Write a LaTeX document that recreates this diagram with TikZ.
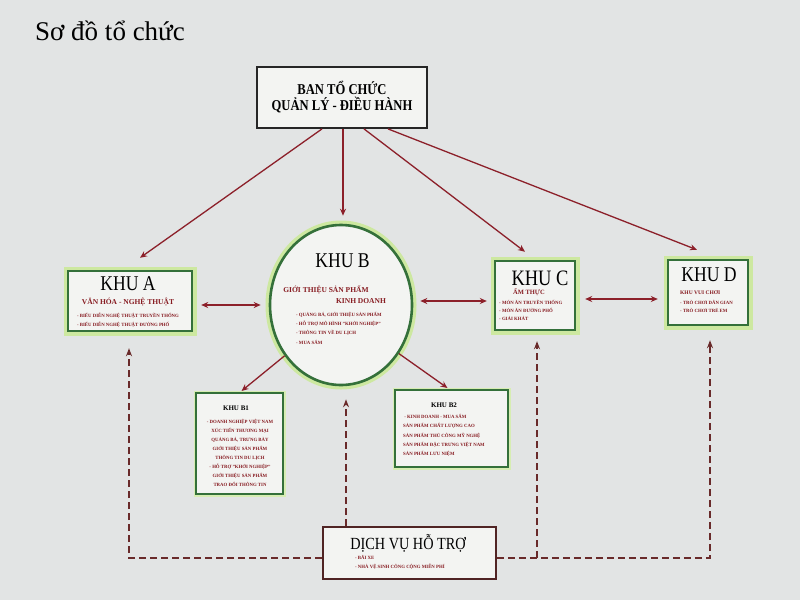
\documentclass[tikz,border=0pt]{standalone}
\usepackage{fontspec}
\setmainfont{Liberation Serif}
\newfontfamily\condserif[FakeStretch=0.84]{Liberation Serif}
\usetikzlibrary{arrows.meta,calc,shapes.geometric}
\definecolor{bg}{RGB}{226,228,228}
\definecolor{boxfill}{RGB}{243,244,242}
\definecolor{dkgreen}{RGB}{52,112,58}
\definecolor{ltgreen}{RGB}{205,232,160}
\definecolor{arrowred}{RGB}{140,32,42}
\definecolor{dashred}{RGB}{105,42,42}
\definecolor{txtred}{RGB}{135,28,34}
\definecolor{dvborder}{RGB}{80,36,36}
\tikzset{
  khubox/.style={rectangle, draw=dkgreen, line width=2.4pt, fill=boxfill,
    preaction={draw=ltgreen, line width=9pt}, inner sep=0pt},
  subbox/.style={rectangle, draw=dkgreen, line width=2pt, fill=boxfill,
    preaction={draw=ltgreen!80, line width=5pt}, inner sep=0pt},
  bigkhu/.style={font=\condserif\fontsize{21}{22}\selectfont, inner sep=0pt, text=black},
  smallkhu/.style={font=\bfseries\fontsize{7}{8}\selectfont, inner sep=0pt, text=black},
  subred/.style={font=\bfseries\fontsize{7.5}{9}\selectfont, text=txtred, inner sep=0pt},
  itemred/.style={font=\bfseries\fontsize{4.8}{9}\selectfont, text=txtred, inner sep=0pt, align=left},
  solidarrow/.style={draw=arrowred, line width=1.3pt, -{Stealth[length=7pt,width=6pt]}},
  duoarrow/.style={draw=arrowred, line width=1.3pt, {Stealth[length=7pt,width=6pt]}-{Stealth[length=7pt,width=6pt]}},
  dasharrow/.style={draw=dashred, line width=1.6pt, dash pattern=on 7pt off 4pt, -{Stealth[length=8pt,width=6pt]}}
}
\begin{document}
\begin{tikzpicture}[x=1pt,y=-1pt]
\fill[bg] (0,0) rectangle (800,600);
\useasboundingbox (0,0) rectangle (800,600);

% title
\node[anchor=base west, inner sep=0pt, font=\fontsize{27}{30}\selectfont] (title) at (35,40) {Sơ đồ tổ chức};

% top box
\node[rectangle, draw=black!85, line width=1.8pt, fill=boxfill, minimum width=170pt, minimum height=61pt,
  align=center, font=\condserif\bfseries\fontsize{15}{16}\selectfont] (top) at (342,97.5) {BAN TỔ CHỨC\\QUẢN LÝ - ĐIỀU HÀNH};

% KHU A
\node[khubox, minimum width=124pt, minimum height=60pt] (khuA) at (130,301) {};
\node[bigkhu] (aT) at (128,284) {KHU A};
\node[subred] (aS) at (128,302) {VĂN HÓA - NGHỆ THUẬT};
\node[itemred] (aI) at (128,320.5) {- BIỂU DIỄN NGHỆ THUẬT TRUYỀN THỐNG\\- BIỂU DIỄN NGHỆ THUẬT ĐƯỜNG PHỐ};

% KHU B
\node[ellipse, draw=dkgreen, line width=2.6pt, fill=boxfill, preaction={draw=ltgreen, line width=9pt},
  minimum width=142pt, minimum height=160pt, inner sep=0pt] (khuB) at (341,305) {};
\node[bigkhu] (bT) at (342.5,261) {KHU B};
\node[subred] (bS1) at (326,290) {GIỚI THIỆU SẢN PHẨM};
\node[subred] (bS2) at (361,301) {KINH DOANH};
\node[itemred, anchor=west, font=\bfseries\fontsize{4.8}{9.3}\selectfont] (bI) at (296,328) {- QUẢNG BÁ, GIỚI THIỆU SẢN PHẨM\\- HỖ TRỢ MÔ HÌNH "KHỞI NGHIỆP"\\- THÔNG TIN VỀ DU LỊCH\\- MUA SẮM};

% KHU C
\node[khubox, minimum width=80pt, minimum height=69pt] (khuC) at (535,295.5) {};
\node[bigkhu, font=\condserif\fontsize{22}{22}\selectfont] (cT) at (540,278) {KHU C};
\node[subred, font=\bfseries\fontsize{6.5}{8}\selectfont] (cS) at (529,292) {ẨM THỰC};
\node[itemred, anchor=west, font=\bfseries\fontsize{4.8}{8}\selectfont] (cI) at (499,310) {- MÓN ĂN TRUYỀN THỐNG\\- MÓN ĂN ĐƯỜNG PHỐ\\- GIẢI KHÁT};

% KHU D
\node[khubox, minimum width=80pt, minimum height=65pt] (khuD) at (708,292.5) {};
\node[bigkhu] (dT) at (709,275) {KHU D};
\node[subred, anchor=west, font=\bfseries\fontsize{5.5}{8}\selectfont] (dS) at (680,293) {KHU VUI CHƠI};
\node[itemred, anchor=west, font=\bfseries\fontsize{4.8}{8}\selectfont] (dI) at (680,306) {- TRÒ CHƠI DÂN GIAN\\- TRÒ CHƠI TRẺ EM};

% KHU B1
\node[subbox, minimum width=87pt, minimum height=101pt] (khuB1) at (239.5,443.5) {};
\node[smallkhu] (b1T) at (236,408) {KHU B1};
\node[itemred, align=center, font=\bfseries\fontsize{4.8}{9}\selectfont] (b1I) at (240,452.5) {- DOANH NGHIỆP VIỆT NAM\\XÚC TIẾN THƯƠNG MẠI\\QUẢNG BÁ, TRƯNG BÀY\\GIỚI THIỆU SẢN PHẨM\\THÔNG TIN DU LỊCH\\- HỖ TRỢ "KHỞI NGHIỆP"\\GIỚI THIỆU SẢN PHẨM\\TRAO ĐỔI THÔNG TIN};

% KHU B2
\node[subbox, minimum width=113pt, minimum height=77pt] (khuB2) at (451.5,428.5) {};
\node[smallkhu] (b2T) at (444,405) {KHU B2};
\node[itemred, anchor=west, font=\bfseries\fontsize{4.8}{9.25}\selectfont] (b2I) at (403,435.5) {\ - KINH DOANH - MUA SẮM\\SẢN PHẨM CHẤT LƯỢNG CAO\\SẢN PHẨM THỦ CÔNG MỸ NGHỆ\\SẢN PHẨM ĐẶC TRƯNG VIỆT NAM\\SẢN PHẨM LƯU NIỆM};

% DICH VU HO TRO
\node[rectangle, draw=dvborder, line width=1.8pt, fill=boxfill, minimum width=173pt, minimum height=52pt, inner sep=0pt] (dv) at (409.5,553) {};
\node[inner sep=0pt, font=\condserif\fontsize{17}{18}\selectfont] (dvT) at (408,543.5) {DỊCH VỤ HỖ TRỢ};
\node[itemred, anchor=west, font=\bfseries\fontsize{4.8}{9}\selectfont] (dvI) at (355,562.5) {- BÃI XE\\- NHÀ VỆ SINH CÔNG CỘNG MIỄN PHÍ};

% solid arrows from top box
\draw[solidarrow] ($(top.south)+(-20,0)$) -- ($(khuA.north)+(10,-12)$);
\draw[solidarrow] ($(top.south)+(1,0)$) -- ($(khuB.north)+(2,-8)$);
\draw[solidarrow] ($(top.south)+(22,0)$) -- ($(khuC.north)+(-10,-8)$);
\draw[solidarrow] ($(top.south)+(46,0)$) -- ($(khuD.north)+(-11,-9)$);

% horizontal double arrows
\draw[duoarrow] ($(khuA.east)+(8,4)$) -- ($(khuB.west)+(-8,0)$);
\draw[duoarrow] ($(khuB.east)+(7,-4)$) -- ($(khuC.west)+(-7,5.5)$);
\draw[duoarrow] ($(khuC.east)+(9,3.5)$) -- ($(khuD.west)+(-9,6.5)$);

% B to B1, B2
\draw[solidarrow] (khuB.222) -- ($(khuB1.north)+(2,-1)$);
\draw[solidarrow] (khuB.-40) -- ($(khuB2.north)+(-4,-1)$);

% dashed support lines
\coordinate (dvL) at ($(dv.west)+(0,5)$);
\coordinate (dvR) at ($(dv.east)+(0,5)$);
\coordinate (tipA) at ($(khuA.south)+(-1,16)$);
\coordinate (tipB) at ($(khuB.south)+(5,13)$);
\coordinate (tipC) at ($(khuC.south)+(2,10)$);
\coordinate (tipD) at ($(khuD.south)+(2,14)$);
\coordinate (dvTop) at (tipB |- dv.north);
\coordinate (jC) at (tipC |- dvR);
\draw[dasharrow] (dvTop) -- (tipB);
\draw[dasharrow] (dvL) -| (tipA);
\draw[dasharrow] (dvR) -| (tipD);
\draw[dasharrow] (jC) -- (tipC);
\end{tikzpicture}
\end{document}
